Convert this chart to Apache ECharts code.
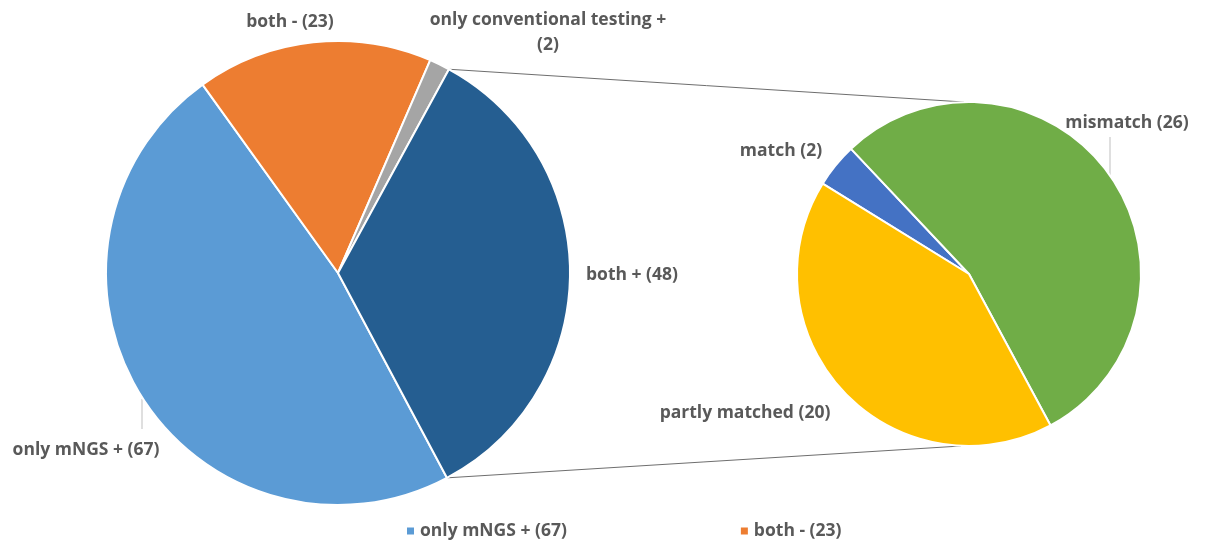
<!DOCTYPE html>
<html><head><meta charset="utf-8">
<script src="https://cdn.jsdelivr.net/npm/echarts@6/dist/echarts.min.js"></script>
<style>html,body{margin:0;padding:0;background:#fff}#c{width:1209px;height:544px}</style>
</head><body><div id="c"></div>
<script>
// ---- data ----
const mainNames = ['only mNGS + (67)', 'both - (23)', 'only conventional testing +\n(2)', 'both + (48)'];
const mainValues = [67, 23, 2, 48];
const subNames = ['match (2)', 'mismatch (26)', 'partly matched (20)'];
const subValues = [2, 26, 20];
const legendItems = ['only mNGS + (67)', 'both - (23)'];

// ---- layout / style ----
const mainColors = ['#5B9BD5', '#ED7D31', '#A5A5A5', '#255E91'];
const subColors = ['#4472C4', '#70AD47', '#FFC000'];
const C1 = [338, 273], R1 = 232, C2 = [969, 274], R2 = 172;
const start1 = -62, start2 = 148.3;
const mainLabelPos = [[86, 450], [290, 22], [548, 33], [632, 275]];
const subLabelPos = [[781, 151], [1127, 123], [745, 413]];
const mainLines = {0: [[142, 399], [142, 414], [142, 429]]};
const subLines = {1: [[1110, 177], [1110, 157], [1110, 137]]};
const FONT = 'Open Sans';
const FS = 17.5;
const labelFont = {fontFamily: FONT, fontWeight: 'bold', fontSize: FS, color: '#595959', lineHeight: 25};

const chart = echarts.init(document.getElementById('c'));

function mkData(names, values, colors, lines) {
  return names.map((n, i) => ({
    name: n, value: values[i],
    itemStyle: {color: colors[i]},
    labelLine: {show: !!lines[i], lineStyle: {color: '#BFBFBF', width: 1}}
  }));
}

// connector lines computed from data-derived angles
const total1 = mainValues.reduce((a, b) => a + b, 0);
const otherVal = mainValues[3];
const aEnd = start1 * Math.PI / 180;
const aStart = (start1 + otherVal / total1 * 360) * Math.PI / 180;
const p1 = [C1[0] + R1 * Math.cos(aStart), C1[1] - R1 * Math.sin(aStart)];
const p2 = [C1[0] + R1 * Math.cos(aEnd), C1[1] - R1 * Math.sin(aEnd)];
const q1 = [C2[0] - 5, C2[1] - R2];
const q2 = [C2[0] - 8, C2[1] + R2];

chart.setOption({
  animation: false,
  backgroundColor: '#fff',
  legend: {
    data: legendItems, left: 405, top: 522, padding: 0,
    icon: 'rect', itemWidth: 9, itemHeight: 9, itemGap: 172,
    textStyle: {fontFamily: FONT, fontWeight: 'bold', fontSize: FS, color: '#595959'}
  },
  graphic: [
    {type: 'line', shape: {x1: p1[0], y1: p1[1], x2: q1[0], y2: q1[1]}, style: {stroke: '#6E6E6E', lineWidth: 1}, z: 0},
    {type: 'line', shape: {x1: p2[0], y1: p2[1], x2: q2[0], y2: q2[1]}, style: {stroke: '#6E6E6E', lineWidth: 1}, z: 0}
  ],
  series: [
    {
      type: 'pie', center: C1, radius: [0, R1], startAngle: start1, clockwise: true,
      itemStyle: {borderColor: '#fff', borderWidth: 2},
      label: Object.assign({show: true, position: 'outside', formatter: '{b}', overflow: 'none', edgeDistance: 0, bleedMargin: 0}, labelFont),
      labelLine: {show: true},
      labelLayout: p => ({x: mainLabelPos[p.dataIndex][0], y: mainLabelPos[p.dataIndex][1], align: 'center', verticalAlign: 'middle', labelLinePoints: mainLines[p.dataIndex]}),
      emphasis: {disabled: true},
      data: mkData(mainNames, mainValues, mainColors, mainLines)
    },
    {
      type: 'pie', center: C2, radius: [0, R2], startAngle: start2, clockwise: true,
      itemStyle: {borderColor: '#fff', borderWidth: 2},
      label: Object.assign({show: true, position: 'outside', formatter: '{b}', overflow: 'none', edgeDistance: 0, bleedMargin: 0}, labelFont),
      labelLine: {show: true},
      labelLayout: p => ({x: subLabelPos[p.dataIndex][0], y: subLabelPos[p.dataIndex][1], align: 'center', verticalAlign: 'middle', labelLinePoints: subLines[p.dataIndex]}),
      emphasis: {disabled: true},
      data: mkData(subNames, subValues, subColors, subLines)
    }
  ]
});
</script></body></html>
